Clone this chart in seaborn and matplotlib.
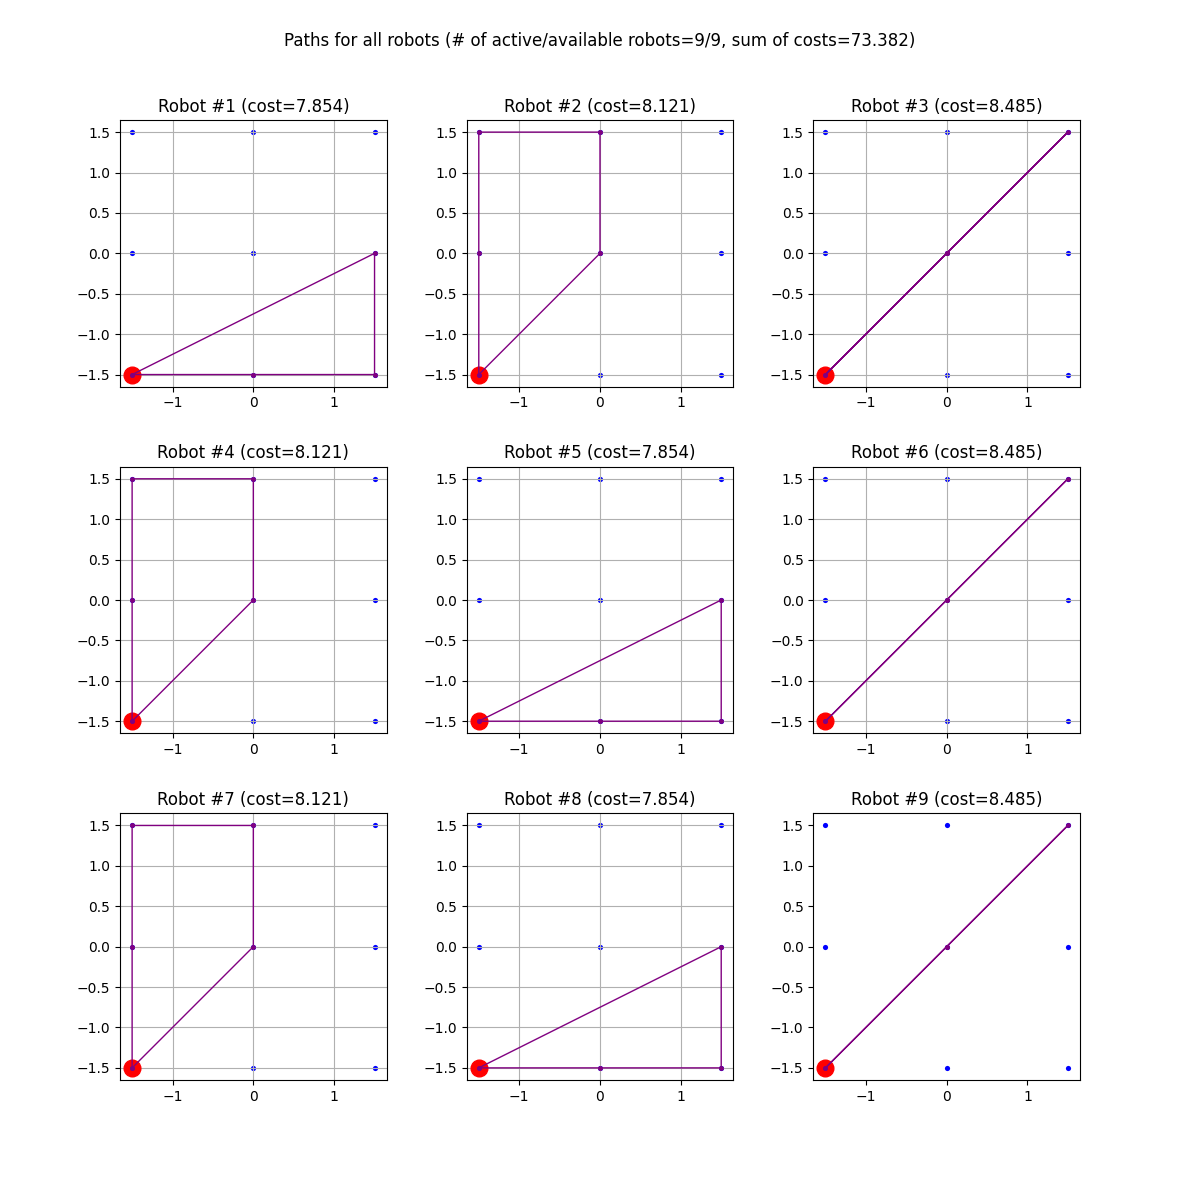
import pandas as pd
import seaborn as sns
import numpy as np
import matplotlib
matplotlib.use("Agg")
import matplotlib.pyplot as plt

# grid of target points
grid_x = [-1.5, 0.0, 1.5, -1.5, 0.0, 1.5, -1.5, 0.0, 1.5]
grid_y = [-1.5, -1.5, -1.5, 0.0, 0.0, 0.0, 1.5, 1.5, 1.5]

# the three distinct tours (start and end at depot)
tour_a_x = [-1.5, 0.0, 1.5, 1.5, -1.5]
tour_a_y = [-1.5, -1.5, -1.5, 0.0, -1.5]
tour_b_x = [-1.5, -1.5, -1.5, 0.0, 0.0, -1.5]
tour_b_y = [-1.5, 0.0, 1.5, 1.5, 0.0, -1.5]
tour_c_x = [-1.5, 0.0, 1.5, 0.0, -1.5]
tour_c_y = [-1.5, 0.0, 1.5, 0.0, -1.5]

robot_tour = ['a', 'b', 'c', 'b', 'a', 'c', 'b', 'a', 'c']
robot_cost = [7.854, 8.121, 8.485, 8.121, 7.854, 8.485, 8.121, 7.854, 8.485]
depot = (-1.5, -1.5)
total_cost = 73.382

tours = {'a': (tour_a_x, tour_a_y), 'b': (tour_b_x, tour_b_y), 'c': (tour_c_x, tour_c_y)}
points = pd.DataFrame({'x': grid_x, 'y': grid_y})

fig, axes = plt.subplots(3, 3, figsize=(12, 12))
fig.subplots_adjust(left=0.1, right=0.9, top=0.9, bottom=0.1, wspace=0.3, hspace=0.3)

for i, ax in enumerate(axes.flat):
    tx, ty = tours[robot_tour[i]]
    path = pd.DataFrame({'x': tx, 'y': ty, 'step': range(len(tx))})
    sns.scatterplot(data=points, x='x', y='y', ax=ax, color='blue', s=14, linewidth=0)
    ax.plot(depot[0], depot[1], 'o', color='red', markersize=12)
    sns.lineplot(data=path, x='x', y='y', ax=ax, sort=False, estimator=None,
                 color='purple', linewidth=1, marker='o', markersize=3.5,
                 markeredgewidth=0)
    ax.set_xlabel('')
    ax.set_ylabel('')
    ax.set_title(f"Robot #{i + 1} (cost={robot_cost[i]:.3f})", fontsize=12)
    if i < 8:
        ax.grid(True)

fig.suptitle(f"Paths for all robots (# of active/available robots=9/9, sum of costs={total_cost:.3f})",
             fontsize=12, y=0.973)
fig.savefig('out.png', dpi=100)
